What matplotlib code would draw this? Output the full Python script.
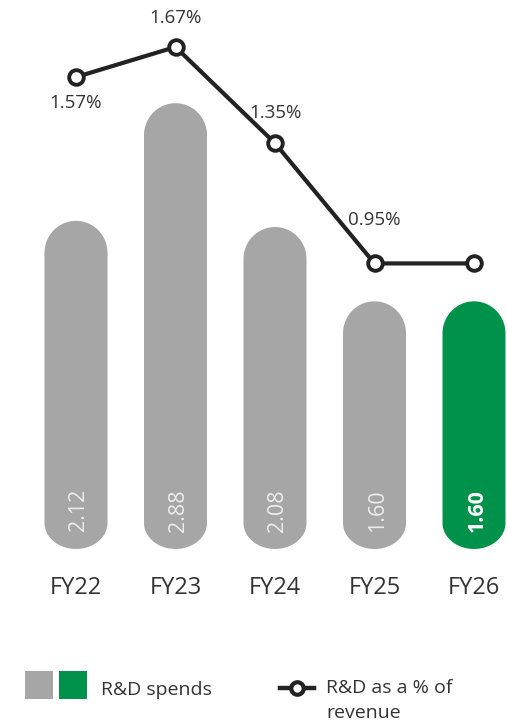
import matplotlib
matplotlib.use("Agg")
import matplotlib.pyplot as plt
import numpy as np
from matplotlib.patches import Polygon, Rectangle
from matplotlib.lines import Line2D

plt.rcParams['font.family'] = ['Open Sans', 'DejaVu Sans']

# Data
years = ["FY22", "FY23", "FY24", "FY25", "FY26"]
spends = [2.12, 2.88, 2.08, 1.60, 1.60]
pct_revenue = [1.57, 1.67, 1.35, 0.95, 0.95]
pct_labels = ["1.57%", "1.67%", "1.35%", "0.95%", ""]

GREY = "#a6a6a6"
GREEN = "#00924a"
DARK = "#222222"
TEXT = "#333333"

bar_colors = [GREY, GREY, GREY, GREY, GREEN]

W, H = 507, 724
fig = plt.figure(figsize=(W / 100, H / 100), dpi=100)

# pixel geometry of the plotting area
base_px = 549
step_px = 99.5
first_px = 76
bar_px_per_unit = 154.8
line_px_per_unit = 300.6

ax = fig.add_axes([0, (H - base_px) / H, 1, base_px / H])
ax.set_xlim(-first_px / step_px, (W - first_px) / step_px)
ax.set_ylim(0, base_px / bar_px_per_unit)
ax.axis("off")


def pill(xc, height, w, r_top, r_bot):
    # outline of a bar with elliptic ends (top and bottom)
    t = np.linspace(0, np.pi, 40)
    top_x = xc + (w / 2) * np.cos(t)
    top_y = height - r_top + r_top * np.sin(t)
    bot_x = xc - (w / 2) * np.cos(t)
    bot_y = r_bot - r_bot * np.sin(t)
    return np.column_stack([np.r_[top_x, bot_x], np.r_[top_y, bot_y]])


bar_w = 63 / step_px
r_top = 32 / bar_px_per_unit
r_bot = 26 / bar_px_per_unit
for i, (v, c) in enumerate(zip(spends, bar_colors)):
    ax.add_patch(Polygon(pill(i, v, bar_w, r_top, r_bot), closed=True, fc=c, ec="none"))
    last = (i == len(spends) - 1)
    ax.text(i + 0.03, 0.25, f"{v:.2f}", rotation=90, ha="center", va="center",
            fontsize=15.5, color="white" if last else "#ececec",
            fontweight="bold" if last else "normal")

# x labels
for i, yr in enumerate(years):
    ax.text(i, -39 / base_px, yr, transform=ax.get_xaxis_transform(),
            ha="center", va="center", fontsize=17, color=TEXT)

# line on a second scale
ax2 = ax.twinx()
ax2.set_ylim(0, base_px / line_px_per_unit)
ax2.axis("off")
xs = list(range(len(years)))
ax2.plot(xs, pct_revenue, color=DARK, lw=3, marker="o", ms=10.5,
         mfc="white", mec=DARK, mew=2.8, solid_joinstyle="miter", zorder=5)

offsets = [-26, 29, 30, 43, 0]
for i, (v, lab, off) in enumerate(zip(pct_revenue, pct_labels, offsets)):
    if lab:
        ax2.annotate(lab, (i, v), xytext=(0, off * 0.72), textcoords="offset points",
                     ha="center", va="center", fontsize=13.5, color=TEXT)

# legend drawn in pixel space
lg = fig.add_axes([0, 0, 1, 1], zorder=-1)
lg.set_xlim(0, W)
lg.set_ylim(H, 0)
lg.axis("off")
lg.add_patch(Rectangle((25, 671), 28, 28, fc=GREY, ec="none"))
lg.add_patch(Rectangle((59, 671), 28, 28, fc=GREEN, ec="none"))
lg.text(101, 690, "R&D spends", ha="left", va="center", fontsize=14, color=TEXT)
lg.add_line(Line2D([280, 314], [688, 688], color=DARK, lw=3.2))
lg.plot([297], [688], marker="o", ms=9, mfc="white", mec=DARK, mew=3)
lg.text(326, 688, "R&D as a % of", ha="left", va="center", fontsize=14, color=TEXT)
lg.text(326, 713, "revenue", ha="left", va="center", fontsize=14, color=TEXT)

fig.savefig("out.png", dpi=100, facecolor="white")
